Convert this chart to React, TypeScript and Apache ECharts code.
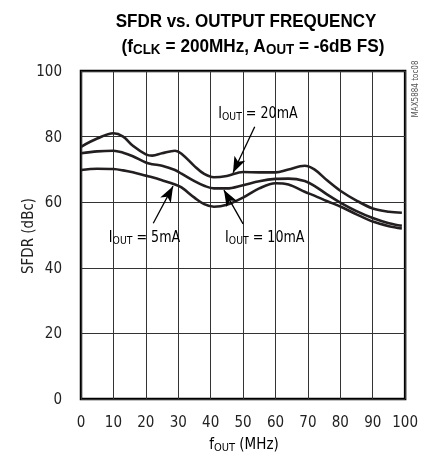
import React, { useEffect, useRef } from "react";
import * as echarts from "echarts";

const freqs = [0, 5, 10, 13, 16, 20, 22, 25, 29, 31, 35, 38, 41, 45, 50, 55, 60, 64, 69, 72, 76, 80, 85, 90, 95, 99];
const sfdr20mA = [76.9, 79.4, 81.0, 80.0, 77.2, 74.6, 74.2, 74.9, 75.7, 74.8, 71.0, 68.6, 67.6, 68.0, 69.2, 69.1, 69.1, 70.0, 71.1, 70.0, 66.6, 63.5, 60.5, 58.1, 57.1, 56.8];
const sfdr10mA = [74.9, 75.5, 75.7, 75.1, 74.0, 72.1, 71.6, 71.1, 69.8, 68.7, 66.4, 65.0, 64.2, 64.2, 65.2, 66.4, 67.1, 67.2, 66.5, 65.0, 62.3, 59.9, 57.3, 55.2, 53.6, 52.8];
const sfdr5mA = [69.8, 70.2, 70.1, 69.7, 69.1, 68.1, 67.6, 66.7, 65.4, 64.5, 61.4, 59.4, 58.6, 59.2, 61.4, 64.2, 65.8, 65.4, 63.2, 62.0, 60.3, 58.7, 56.3, 54.1, 52.7, 52.0];

const seriesNames = ["20mA", "10mA", "5mA"];
// annotation arrows in data coordinates: [fromX, fromY, toX, toY]
const arrows = [
  [53.6, 83.0, 46.9, 69.0],
  [50.0, 53.4, 44.1, 63.7],
  [22.3, 53.6, 28.4, 64.9],
];
// label anchors in data coordinates: [x, y]
const labelPos = [
  [54.6, 87.3],
  [56.7, 49.5],
  [19.6, 49.5],
];

const FONT = "'DejaVu Sans Condensed', 'Liberation Sans', sans-serif";
const TFONT = "'Liberation Sans', Arial, sans-serif";
const LINE = "#231f20";

export default function App() {
  const ref = useRef<HTMLDivElement>(null);
  useEffect(() => {
    if (!ref.current) return;
    const chart = echarts.init(ref.current, null, { renderer: "svg" });
    const mk = (vals: number[]) => freqs.map((f, i) => [f, vals[i]]);
    const allVals = [sfdr20mA, sfdr10mA, sfdr5mA];
    chart.setOption({
      animation: false,
      grid: {
        left: 81,
        top: 71,
        width: 328,
        height: 328,
        show: true,
        borderColor: "#000",
        borderWidth: 2.5,
        backgroundColor: "transparent",
      },
      xAxis: {
        type: "value",
        min: 0,
        max: 100,
        interval: 10,
        axisLine: { show: false },
        axisTick: { show: false },
        splitLine: { show: true, lineStyle: { color: "#333", width: 1 } },
        axisLabel: { color: "#222", fontFamily: FONT, fontSize: 15, margin: 15 },
      },
      yAxis: {
        type: "value",
        min: 0,
        max: 100,
        interval: 20,
        axisLine: { show: false },
        axisTick: { show: false },
        splitLine: { show: true, lineStyle: { color: "#333", width: 1 } },
        axisLabel: { color: "#222", fontFamily: FONT, fontSize: 15, margin: 19 },
      },
      series: allVals.map((vals, i) => ({
        name: seriesNames[i],
        type: "line",
        smooth: 0.35,
        symbol: "none",
        data: mk(vals),
        lineStyle: { color: LINE, width: 2.6 },
        markLine: {
          silent: true,
          symbol: ["none", "arrow"],
          symbolSize: [9, 16],
          label: { show: false },
          lineStyle: { color: "#000", width: 1.3, type: "solid" },
          data: [
            [
              { coord: [arrows[i][0], arrows[i][1]] },
              { coord: [arrows[i][2], arrows[i][3]] },
            ],
          ],
        },
      })),
    });

    const rich = {
      a: { fontFamily: FONT, fontSize: 15, color: "#222" },
      s: { fontFamily: FONT, fontSize: 11, color: "#222", padding: [7, 0, 0, 0] },
    };
    const labels = labelPos.map((p, i) => {
      const [px, py] = chart.convertToPixel({ gridIndex: 0 }, p) as number[];
      return {
        type: "text",
        x: px,
        y: py,
        scaleX: 0.94,
        style: {
          text: `{a|I}{s|OUT}{a| = ${seriesNames[i]}}`,
          rich,
          align: "center",
          verticalAlign: "middle",
        },
      };
    });
    const titleRich = {
      b: { fontFamily: TFONT, fontSize: 18, fontWeight: "bold", color: "#111" },
      s: { fontFamily: TFONT, fontSize: 14, fontWeight: "bold", color: "#111", padding: [7, 0, 0, 0] },
    };
    chart.setOption({
      graphic: [
        ...labels,
        {
          type: "text",
          x: 246,
          y: 21,
          scaleX: 0.945,
          style: { text: "{b|SFDR vs. OUTPUT FREQUENCY}", rich: titleRich, align: "center", verticalAlign: "middle" },
        },
        {
          type: "text",
          x: 253,
          y: 46,
          scaleX: 0.955,
          style: {
            text: "{b|(f}{s|CLK}{b| = 200MHz, A}{s|OUT}{b| = -6dB FS)}",
            rich: titleRich,
            align: "center",
            verticalAlign: "middle",
          },
        },
        {
          type: "text",
          x: 244,
          y: 444,
          style: { text: "{a|f}{s|OUT}{a| (MHz)}", rich, align: "center", verticalAlign: "middle" },
        },
        {
          type: "text",
          x: 28,
          y: 236,
          rotation: Math.PI / 2,
          style: {
            text: "SFDR (dBc)",
            fontFamily: FONT,
            fontSize: 15,
            fill: "#222",
            align: "center",
            verticalAlign: "middle",
          },
        },
        {
          type: "text",
          x: 415,
          y: 89,
          rotation: Math.PI / 2,
          style: {
            text: "MAX5884 toc08",
            fontFamily: FONT,
            fontSize: 8,
            fill: "#555",
            align: "center",
            verticalAlign: "middle",
          },
        },
      ],
    });
    return () => chart.dispose();
  }, []);
  return <div ref={ref} style={{ position: "fixed", left: 0, top: 0, width: 421, height: 459 }} />;
}
